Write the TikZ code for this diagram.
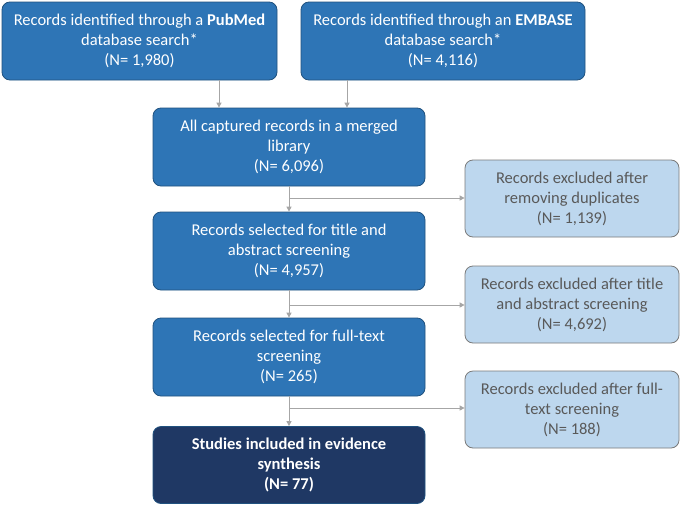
\documentclass[tikz,border=0pt]{standalone}
\usepackage{fontspec}
\setmainfont{Carlito}
\usetikzlibrary{arrows.meta}
\definecolor{mid}{HTML}{2E75B6}
\definecolor{navy}{HTML}{1F3864}
\definecolor{light}{HTML}{BDD7EE}
\definecolor{ltxt}{HTML}{595959}
\definecolor{arr}{HTML}{A6A6A6}
\begin{document}
\begin{tikzpicture}[x=1pt,y=-1pt,
  box/.style={draw=mid!70!black,line width=0.8pt,fill=mid,text=white,align=center,rounded corners=8pt,font=\fontsize{16.5}{20}\selectfont,inner sep=2pt},
  rbox/.style={draw=ltxt!80,line width=0.8pt,fill=light,text=ltxt,align=center,rounded corners=8pt,font=\fontsize{16.5}{20}\selectfont,inner sep=2pt},
  ar/.style={draw=arr,line width=1pt,-{Triangle[length=5pt,width=5pt]}}]
\useasboundingbox[fill=white] (0,0) rectangle (682,506);
\node[box,minimum width=275pt,minimum height=78pt] (a) at (139.5,41) {Records identified through a \textbf{PubMed}\\database search*\\(N= 1,980)};
\node[box,minimum width=284pt,minimum height=78pt] (b) at (443,41) {Records identified through an \textbf{EMBASE}\\database search*\\(N= 4,116)};
\node[box,minimum width=272pt,minimum height=78pt] (c) at (289,147) {All captured records in a merged\\library\\(N= 6,096)};
\node[box,minimum width=272pt,minimum height=78pt] (d) at (289,251) {Records selected for title and\\abstract screening\\(N= 4,957)};
\node[box,minimum width=272pt,minimum height=78pt] (e) at (289,357) {Records selected for full-text\\screening\\(N= 265)};
\node[box,fill=navy,minimum width=272pt,minimum height=77pt,font=\fontsize{16.5}{20}\selectfont\bfseries] (f) at (289,465) {Studies included in evidence\\synthesis\\(N= 77)};
\node[rbox,minimum width=214pt,minimum height=77pt] (r1) at (572,198.5) {Records excluded after\\removing duplicates\\(N= 1,139)};
\node[rbox,minimum width=214pt,minimum height=77pt] (r2) at (572,304.5) {Records excluded after title\\and abstract screening\\(N= 4,692)};
\node[rbox,minimum width=214pt,minimum height=77pt] (r3) at (572,409.5) {Records excluded after full-\\text screening\\(N= 188)};
\draw[ar] (a.south -| 219,0) -- (c.north -| 219,0);
\draw[ar] (b.south -| 347,0) -- (c.north -| 347,0);
\draw[ar] (c) -- (d);
\draw[ar] (d) -- (e);
\draw[ar] (e) -- (f);
\coordinate (j1) at (289,198);
\coordinate (j2) at (289,305);
\coordinate (j3) at (289,408);
\draw[ar] (j1) -- (r1.west |- j1);
\draw[ar] (j2) -- (r2.west |- j2);
\draw[ar] (j3) -- (r3.west |- j3);
\end{tikzpicture}
\end{document}
